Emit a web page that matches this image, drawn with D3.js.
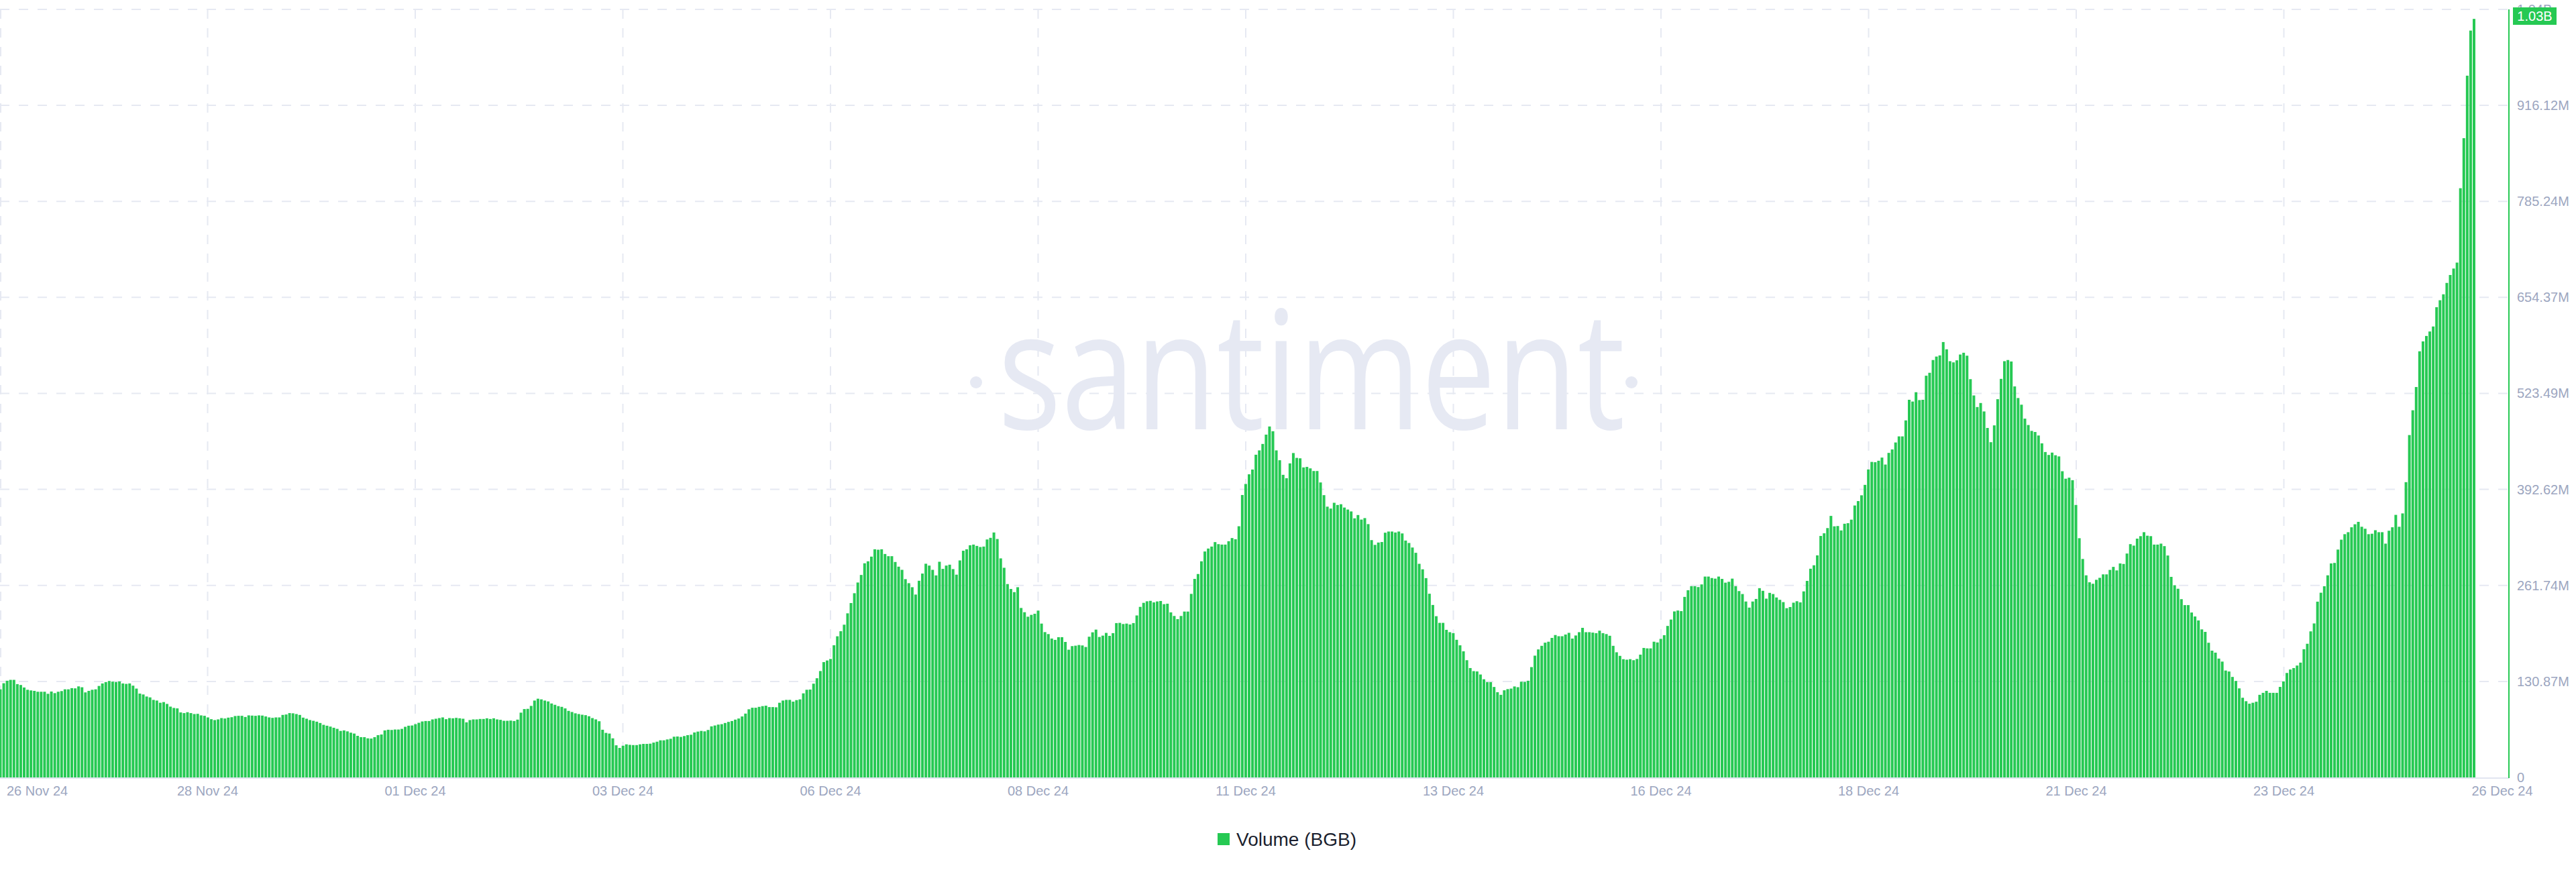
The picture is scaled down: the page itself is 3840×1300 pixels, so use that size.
<!DOCTYPE html>
<html><head><meta charset="utf-8">
<script src="https://cdn.jsdelivr.net/npm/d3@7"></script>
<style>
html,body{margin:0;padding:0;background:#fff;}
svg{display:block;font-family:"Liberation Sans",Arial,Helvetica,sans-serif;}
</style>
</head><body>
<svg id="chart" width="3840" height="1300"></svg>
<script>
// ---- DATA (hourly volume, millions of BGB) ----
const volNov26to28 = [120.1,128.4,131.8,133.0,133.0,127.2,126.0,122.6,119.5,118.6,
118.0,116.8,116.8,116.8,114.0,117.1,114.9,116.8,117.7,120.1,
120.1,121.7,121.4,124.1,122.9,115.9,118.0,119.5,120.1,124.7,
128.1,130.0,131.5,130.6,130.0,130.9,128.1,127.5,128.1,125.1,
121.1,114.3,113.1,110.3,109.1,105.7,104.8,101.8,102.7,100.2,
96.5,94.7,94.1,88.6,87.7,88.9,87.7,86.4,86.7,84.6,
84.0,81.8,79.4,78.2,79.1,80.9,80.3,81.5,82.1,83.7,
84.0,84.0,82.4,84.6,84.3,84.0,84.6,84.3,83.1,81.8,
81.2,81.8,81.8,85.2,85.8,87.7,87.4,86.4,85.2,81.5,
80.0,78.2,77.2,76.0,74.2,71.7,70.5,69.3,67.7,66.2,
63.4,64.1,62.8,61.0,59.8,56.7,54.9,54.9,53.3,53.0,
54.9,57.6,58.5,64.1,65.0,64.7,65.3,65.3,66.2,69.0,
70.5,70.8];
const volNov30toDec05 = [72.6,74.5,76.3,76.9,76.9,79.1,80.0,80.9,81.8,79.4,
80.9,80.6,81.2,80.6,80.0,75.1,78.2,79.1,79.1,79.7,
79.7,80.6,79.7,80.6,79.1,78.5,77.2,77.2,77.5,76.9,
78.8,88.3,93.2,93.5,97.5,104.8,107.3,106.4,104.8,103.6,
100.8,99.0,97.2,96.2,94.1,90.7,89.2,87.4,86.4,85.5,
84.9,83.4,80.9,79.1,76.6,65.0,60.7,59.8,53.3,43.8,
40.2,43.2,45.1,44.4,44.1,44.1,45.1,45.7,45.7,46.0,
47.5,48.7,50.6,50.6,51.8,52.7,55.5,55.8,55.2,56.4,
57.6,58.2,61.3,62.5,63.4,62.8,64.7,69.6,70.8,72.0,
72.6,74.2,75.7,76.9,78.8,80.3,83.1,87.0,92.9,95.0,
95.0,96.2,97.2,97.8,95.9,95.9,95.6,101.8,104.8,105.7,
105.7,103.3,105.4,106.4,114.6,119.5,119.8,127.8,135.2,145.0,
157.2,159.4,161.5];
const volDec05to10 = [180.2,192.4,199.3,208.2,223.7,237.7,251.1,265.7,276.0,291.9,
294.6,301.0,311.0,310.4,311.0,304.6,301.6,301.6,293.7,287.3,
283.0,270.3,264.8,259.3,249.3,268.1,277.9,291.3,288.8,283.0,
275.4,294.0,284.3,288.8,290.0,284.0,276.4,295.8,309.0,311.0,
316.5,317.4,315.6,314.1,314.7,324.4,326.6,333.9,325.0,298.6,
285.8,263.6,256.9,252.6,259.3,231.0,225.2,219.1,221.6,223.1,
227.4,209.7,198.1,195.4,189.3,187.5,191.2,191.2,184.7,174.1,
179.0,179.6,180.5,179.9,177.8,191.8,197.8,201.5,191.5,193.3,
197.0,193.0,196.7,210.4,210.7,209.1,209.7,208.5,210.4,220.8,
232.5,238.0,240.1,240.7,238.6,239.9,240.5,236.2,236.8,225.0,
220.1,215.8,220.1,226.1,226.1,250.2,270.6,277.3,294.6,308.0,
312.0,314.7,320.8,318.0,317.4,317.4,322.0,326.3,324.7,342.4,
385.0,400.0];
const volDec10to15 = [413.2,419.7,439.9,445.8,454.6,467.3,478.4,471.9,445.8,432.4,
412.5,407.9,428.1,442.2,435.6,435.0,422.6,423.3,421.3,417.7,
417.7,402.1,384.8,369.1,366.5,374.4,371.4,372.4,367.9,365.2,
362.6,353.2,357.7,351.5,353.5,345.3,323.5,317.0,320.2,320.9,
333.6,335.2,335.2,333.9,335.2,332.6,322.9,319.6,313.4,306.2,
291.2,283.7,271.7,250.4,235.1,219.8,210.7,210.7,201.2,198.0,
196.7,187.6,180.1,171.9,159.8,149.1,144.9,144.5,140.3,133.8,
129.9,129.9,123.3,116.2,112.6,118.8,120.4,121.1,124.0,123.0,
130.5,130.2,131.8,150.4,166.0,174.5,179.4,183.7,185.0,190.2,
194.1,192.5,192.5,194.8,197.1,189.3,193.5,198.0,203.9,198.0,
198.0,197.4,196.7,200.0,196.7,195.4,193.1,179.4,170.6,165.7,
161.2,160.5,161.2,159.8,161.5,167.4,176.5,175.9,175.9,185.0,
184.0,188.9];
const volDec15to20 = [193.9,206.5,215.2,226.3,227.5,226.7,246.1,255.2,260.7,260.7,
259.5,263.1,273.8,273.8,271.8,271.0,273.8,270.6,265.5,266.7,
271.0,260.7,254.0,250.0,239.8,231.5,239.8,243.3,258.0,254.4,
243.7,251.6,250.0,245.3,242.1,239.0,230.7,232.3,238.2,240.2,
238.6,253.6,267.9,284.5,289.2,302.7,329.2,332.8,339.9,356.5,
342.3,342.7,336.7,345.8,346.6,351.4,370.7,376.7,384.6,398.8,
419.8,430.1,429.7,431.7,436.0,426.5,442.4,447.1,456.6,464.9,
464.9,486.7,514.8,512.4,525.1,514.4,514.8,547.6,551.6,569.0,
573.7,575.3,593.5,583.6,567.4,565.8,568.6,576.5,578.9,574.9,
542.9,520.7,504.9,510.4,498.9,476.4,457.0,479.9,515.6,543.3,
567.4,569.0,567.0,533.0,517.2,508.1,489.1,480.4,472.4,470.9,
466.1,455.4,443.6,439.6,442.8,439.2,437.6,417.4];
const volDec20to25 = [407.2,408.6,405.2,371.4,326.1,297.8,275.5,266.0,264.0,269.4,
272.1,276.8,276.8,282.9,287.0,282.2,291.7,291.0,305.2,318.0,
316.0,325.5,328.9,334.3,329.5,328.9,317.4,317.4,318.7,315.3,
302.5,273.4,262.0,257.2,243.0,234.9,234.9,224.8,219.4,214.0,
201.8,198.4,183.6,172.8,170.1,162.0,157.9,145.7,144.4,137.0,
131.5,121.4,108.6,103.9,100.5,101.8,103.2,112.6,115.3,118.0,
115.3,115.3,115.3,123.4,130.9,142.4,147.1,149.1,152.5,156.5,
174.8,182.2,199.1,209.9,239.6,251.8,260.6,275.5,291.7,292.4,
310.6,324.1,331.6,334.3,341.0,345.1,348.4,341.7,339.0,331.6,
332.2,337.0,334.3,334.3,318.7,336.3,341.0,357.9,341.7,359.9,
402.5,466.7,500.5,532.2,580.9,594.4,601.8,607.9,614.7,641.0,
650.5,658.6,674.1,684.9,693.7,701.8,803.2,871.4,956.6,1018.1,
1034.0];

const yTickValues = [0,130.87,261.74,392.62,523.49,654.37,785.24,916.12,1046.97];
const yTickLabels = ["0","130.87M","261.74M","392.62M","523.49M","654.37M","785.24M","916.12M","1.04B"];
const xTickDates = ["2024-11-26T00:00","2024-11-28T12:00","2024-12-01T00:00","2024-12-03T12:00",
  "2024-12-06T00:00","2024-12-08T12:00","2024-12-11T00:00","2024-12-13T12:00","2024-12-16T00:00",
  "2024-12-18T12:00","2024-12-21T00:00","2024-12-23T12:00","2024-12-26T00:00"];
const xTickLabels = ["26 Nov 24","28 Nov 24","01 Dec 24","03 Dec 24","06 Dec 24","08 Dec 24",
  "11 Dec 24","13 Dec 24","16 Dec 24","18 Dec 24","21 Dec 24","23 Dec 24","26 Dec 24"];
const lastValueLabel = "1.03B";
const seriesName = "Volume (BGB)";
const watermark = "santiment";

// ---- LAYOUT ----
const values = [].concat(volNov26to28, volNov30toDec05, volDec05to10, volDec10to15, volDec15to20, volDec20to25);
const N = values.length;
const GREEN = "#26c953", GRID = "#e6e9f2", AXIS_TXT = "#9ca6c0";
const plotTop = 14, plotBottom = 1159, plotRight = 3740;

const svg = d3.select("#chart");
const y = d3.scaleLinear().domain([0, 1046.97]).range([plotBottom, plotTop]);
const xTime = d3.scaleTime().domain([new Date(2024,10,26), new Date(2024,11,26)]).range([0, 3714]);
const xBar = d3.scaleLinear().domain([0, N-1]).range([0.5, 3688]);
const barW = 4.0;

svg.append("defs").append("clipPath").attr("id","plotclip")
  .append("rect").attr("x",0).attr("y",0).attr("width",plotRight).attr("height",plotBottom);

// vertical gridlines (all but the last tick)
const tickDates = xTickDates.map(d => new Date(d));
svg.append("g").selectAll("line").data(tickDates.slice(0,-1)).join("line")
  .attr("x1", d => Math.max(1, xTime(d))).attr("x2", d => Math.max(1, xTime(d)))
  .attr("y1", plotTop).attr("y2", plotBottom)
  .attr("stroke", GRID).attr("stroke-width", 2).attr("stroke-dasharray","14,14");

// horizontal gridlines
svg.append("g").selectAll("line").data(yTickValues.slice(1)).join("line")
  .attr("x1", 0).attr("x2", plotRight)
  .attr("y1", d => y(d)).attr("y2", d => y(d))
  .attr("stroke", GRID).attr("stroke-width", 2).attr("stroke-dasharray","14,14");

// watermark
const wm = svg.append("g");
wm.append("text").attr("x", 1955).attr("y", 640).attr("text-anchor","middle")
  .attr("font-family","'Open Sans','Noto Sans',sans-serif").attr("font-size", 246).attr("font-weight", 500)
  .attr("textLength", 935).attr("lengthAdjust","spacingAndGlyphs")
  .attr("fill","#e6e9f3").text(watermark);
wm.selectAll("circle").data([1455, 2432]).join("circle")
  .attr("cx", d => d).attr("cy", 570).attr("r", 9).attr("fill","#e6e9f3");

// bars
svg.append("g").attr("clip-path","url(#plotclip)").selectAll("rect").data(values).join("rect")
  .attr("x", (d,i) => xBar(i) - barW/2).attr("width", barW)
  .attr("y", d => y(d)).attr("height", d => plotBottom - y(d))
  .attr("fill", GREEN);

// baseline
svg.append("line").attr("x1",0).attr("x2",plotRight).attr("y1",plotBottom+1).attr("y2",plotBottom+1)
  .attr("stroke","#e1e5f0").attr("stroke-width",2);
// right axis line
svg.append("line").attr("x1",plotRight).attr("x2",plotRight).attr("y1",plotTop).attr("y2",plotBottom+1)
  .attr("stroke",GREEN).attr("stroke-width",2);

// y labels (top one sits partly under the last-value badge, as in the original)
svg.append("g").selectAll("text").data(yTickValues).join("text")
  .attr("x", 3752).attr("y", d => y(d)).attr("dy","0.35em")
  .attr("font-size", 20).attr("fill", AXIS_TXT)
  .text((d,i) => yTickLabels[i]);

// x labels
svg.append("g").selectAll("text").data(tickDates).join("text")
  .attr("x", (d,i) => i === 0 ? 10 : (i === tickDates.length-1 ? xTime(d) + 16 : xTime(d)))
  .attr("y", 1186)
  .attr("text-anchor", (d,i) => i === 0 ? "start" : "middle")
  .attr("font-size", 20).attr("fill", AXIS_TXT)
  .text((d,i) => xTickLabels[i]);

// last value badge
const lastY = 24;
svg.append("rect").attr("x", 3746).attr("y", lastY-13).attr("width", 65).attr("height", 26).attr("fill", GREEN);
svg.append("text").attr("x", 3778.5).attr("y", lastY).attr("dy","0.36em").attr("text-anchor","middle")
  .attr("font-size", 20).attr("fill","#fff").text(lastValueLabel);

// legend
svg.append("rect").attr("x", 1815).attr("y", 1242).attr("width", 18).attr("height", 18).attr("fill", GREEN);
svg.append("text").attr("x", 1843).attr("y", 1261).attr("font-size", 28).attr("fill","#1b1f2e").text(seriesName);
</script>
</body></html>
